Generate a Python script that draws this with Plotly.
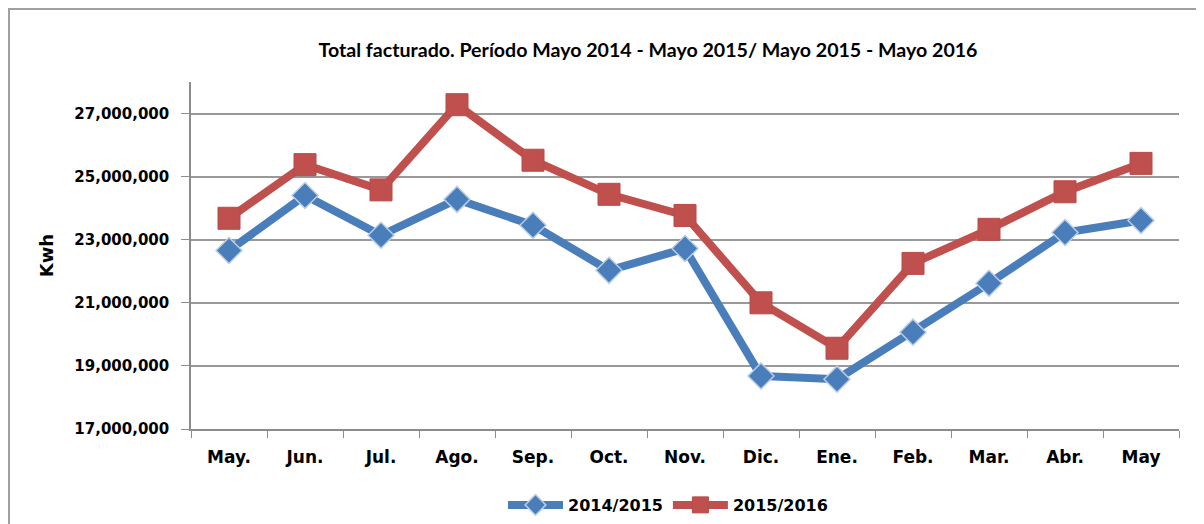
import plotly.graph_objects as go

# Meses del periodo
meses = ["May.", "Jun.", "Jul.", "Ago.", "Sep.", "Oct.", "Nov.",
         "Dic.", "Ene.", "Feb.", "Mar.", "Abr.", "May"]

# Kwh facturados por periodo
kwh_2014_2015 = [22660000, 24400000, 23140000, 24280000, 23460000, 22030000, 22720000,
                 18680000, 18580000, 20070000, 21620000, 23230000, 23610000]
kwh_2015_2016 = [23680000, 25380000, 24580000, 27280000, 25520000, 24440000, 23770000,
                 21000000, 19560000, 22250000, 23330000, 24520000, 25420000]

azul = "#4A7EBB"
rojo = "#C0504D"

fig = go.Figure()

fig.add_trace(go.Scatter(
    x=meses, y=kwh_2014_2015, name="2014/2015",
    mode="lines+markers",
    line=dict(color=azul, width=8),
    marker=dict(symbol="diamond", size=20, color=azul,
                line=dict(color="#B9CDE5", width=1.5)),
))

fig.add_trace(go.Scatter(
    x=meses, y=kwh_2015_2016, name="2015/2016",
    mode="lines+markers",
    line=dict(color=rojo, width=8),
    marker=dict(symbol="square", size=22, color=rojo,
                line=dict(color="#B84A47", width=1)),
))

# la pagina tiene 8px de margen: area de trazado en pantalla x 191-1179, y 82-429
fig.update_layout(
    width=1204, height=524,
    margin=dict(l=183, r=33, t=74, b=103, autoexpand=False),
    paper_bgcolor="white", plot_bgcolor="white",
    font=dict(family="DejaVu Sans", color="black"),
    title=dict(
        text="<b>Total facturado. Período Mayo 2014 - Mayo 2015/ Mayo 2015 - Mayo 2016</b>",
        x=640 / 1204, xref="container", xanchor="center",
        y=1 - 42 / 524, yref="container", yanchor="middle",
        font=dict(family="Lato", size=19.6),
    ),
    showlegend=True,
    legend=dict(
        orientation="h", x=(660 - 183) / 988, xanchor="center",
        y=-(505 - 429) / 347, yanchor="middle",
        font=dict(family="DejaVu Sans", size=16, weight="bold"),
        itemwidth=55, tracegroupgap=0,
    ),
    shapes=[dict(
        type="rect", xref="paper", yref="paper",
        x0=-182 / 988, x1=1.1, y0=-0.5, y1=1 + 73 / 347,
        line=dict(color="#A0A0A0", width=2), layer="below",
    )],
)

fig.update_xaxes(
    range=[-0.5, 12.5], automargin=False,
    showline=True, linecolor="#8C8C8C", linewidth=1.5,
    ticks="outside", tickson="boundaries", ticklen=7, tickcolor="#8C8C8C",
    ticklabelstandoff=12,
    tickfont=dict(family="DejaVu Sans", size=17, weight="bold"),
    showgrid=False,
)

fig.update_yaxes(
    range=[17000000, 28000000], automargin=False,
    tickvals=[17000000, 19000000, 21000000, 23000000, 25000000, 27000000],
    tickformat=",d",
    showline=True, linecolor="#8C8C8C", linewidth=1.5,
    ticks="outside", ticklen=8, tickcolor="#8C8C8C",
    ticklabelstandoff=9,
    showgrid=True, gridcolor="#999999", gridwidth=1.5,
    zeroline=False,
    tickfont=dict(family="DejaVu Sans", size=15, weight="bold"),
    title=dict(text="<b>Kwh</b>", standoff=16,
               font=dict(family="DejaVu Sans", size=18)),
)

fig.write_html("out.html")
